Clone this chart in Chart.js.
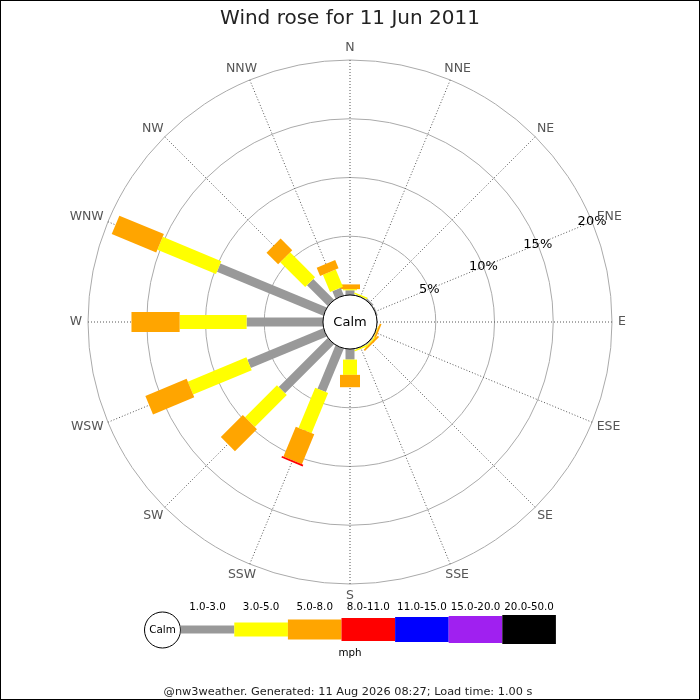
<!DOCTYPE html>
<html>
<head>
<meta charset="utf-8">
<script src="https://cdn.jsdelivr.net/npm/chart.js@4.4.1/dist/chart.umd.min.js"></script>
<style>
  html, body { margin: 0; padding: 0; background: #fff; }
  #wrap { width: 700px; height: 700px; }
</style>
</head>
<body>
<div id="wrap"><canvas id="c" width="700" height="700"></canvas></div>
<script>
// ---- data ----
const directions = ['N','NNE','NE','ENE','E','ESE','SE','SSE','S','SSW','SW','WSW','W','WNW','NW','NNW'];
const speedBins = ['1.0-3.0','3.0-5.0','5.0-8.0','8.0-11.0','11.0-15.0','15.0-20.0','20.0-50.0'];
// percentage of time per direction, per speed bin (mph)
const pct_1_3   = [0.40,0.05,0.15,0.10,0,0.05,0.10,0.05,0.90,4.00,5.90,7.00,6.50,9.80,2.50,0.70];
const pct_3_5   = [0.10,0.12,0,0,0,0.05,0.10,0.12,1.30,3.70,3.85,5.40,5.70,5.40,3.00,1.60];
const pct_5_8   = [0.40,0,0,0,0,0.15,0.15,0,1.05,2.75,2.65,3.80,4.10,4.10,1.40,0.75];
const pct_8_11  = [0,0,0,0,0,0,0,0,0,0.15,0,0,0,0,0,0];
const pct_11_15 = [0,0,0,0,0,0,0,0,0,0,0,0,0,0,0,0];
const pct_15_20 = [0,0,0,0,0,0,0,0,0,0,0,0,0,0,0,0];
const pct_20_50 = [0,0,0,0,0,0,0,0,0,0,0,0,0,0,0,0];
const ringTicks = [5, 10, 15, 20];
const titleText = 'Wind rose for 11 Jun 2011';
const unitText = 'mph';
const calmText = 'Calm';
const footerText = '@nw3weather. Generated: 11 Aug 2026 08:27; Load time: 1.00 s';

// ---- styles ----
const binColors = ['#999999','#ffff00','#ffa500','#ff0000','#0000ff','#a020f0','#000000'];
const binWidths = [9, 14, 20, 23, 25, 27, 29];
const legendHeights = [8, 14, 20, 23, 25, 27, 29];
const FONT = '"DejaVu Sans", "Liberation Sans", sans-serif';
const CALM_MIN = -2.3; // value that maps to the calm circle edge

const series = [pct_1_3, pct_3_5, pct_5_8, pct_8_11, pct_11_15, pct_15_20, pct_20_50];

const rosePlugin = {
  id: 'rose',
  afterDatasetsDraw(chart) {
    const ctx = chart.ctx;
    const s = chart.scales.r;
    const n = directions.length;
    // bars
    for (let i = 0; i < n; i++) {
      let cum = 0;
      const ang = s.getIndexAngle(i) - Math.PI / 2;
      for (let k = 0; k < series.length; k++) {
        const v = chart.data.datasets[k].data[i];
        if (!v) continue;
        const r0 = s.getDistanceFromCenterForValue(cum);
        cum += v;
        const r1 = s.getDistanceFromCenterForValue(cum);
        const w = binWidths[k];
        ctx.save();
        ctx.translate(s.xCenter, s.yCenter);
        ctx.rotate(ang);
        ctx.fillStyle = binColors[k];
        ctx.fillRect(r0, -w / 2, r1 - r0, w);
        ctx.restore();
      }
    }
    // calm circle
    const rc = s.getDistanceFromCenterForValue(0);
    ctx.save();
    ctx.beginPath();
    ctx.arc(s.xCenter, s.yCenter, rc, 0, Math.PI * 2);
    ctx.fillStyle = '#fff';
    ctx.fill();
    ctx.lineWidth = 1;
    ctx.strokeStyle = '#000';
    ctx.stroke();
    ctx.fillStyle = '#000';
    ctx.font = '13px ' + FONT;
    ctx.textAlign = 'center';
    ctx.textBaseline = 'middle';
    ctx.fillText(calmText, s.xCenter, s.yCenter + 0.5);
    // ring labels along ENE
    ringTicks.forEach(v => {
      const p = s.getPointPosition(3, s.getDistanceFromCenterForValue(v));
      ctx.fillText(v + '%', p.x, p.y);
    });
    // direction labels
    ctx.font = '12.5px ' + FONT;
    ctx.fillStyle = '#555555';
    const outer = s.getDistanceFromCenterForValue(s.max) + 6;
    directions.forEach((lab, i) => {
      const a = s.getIndexAngle(i);
      const p = s.getPointPosition(i, outer);
      const w = ctx.measureText(lab).width;
      const x = p.x + (w / 2) * Math.sin(a);
      const y = p.y - 6 * Math.cos(a);
      ctx.fillText(lab, x, y);
    });
    ctx.restore();
  },
  afterDraw(chart) {
    const ctx = chart.ctx;
    ctx.save();
    // legend
    const cy = 629.5;
    ctx.beginPath();
    ctx.arc(162.5, 630, 18, 0, Math.PI * 2);
    ctx.fillStyle = '#fff';
    ctx.fill();
    ctx.strokeStyle = '#000';
    ctx.lineWidth = 1;
    ctx.stroke();
    ctx.fillStyle = '#000';
    ctx.font = '10.4px ' + FONT;
    ctx.textAlign = 'center';
    ctx.textBaseline = 'middle';
    ctx.fillText(calmText, 162.5, 630.5);
    const x0 = 180.7, step = 53.6;
    speedBins.forEach((lab, k) => {
      const h = legendHeights[k];
      ctx.fillStyle = binColors[k];
      ctx.fillRect(x0 + k * step, cy - h / 2, step, h);
      ctx.fillStyle = '#000';
      ctx.font = '10.3px ' + FONT;
      ctx.fillText(lab, x0 + k * step + step / 2, 607);
    });
    ctx.fillText(unitText, 350, 653);
    ctx.font = '11.3px ' + FONT;
    ctx.fillStyle = '#222';
    ctx.fillText(footerText, 348, 692.5);
    // frame
    ctx.strokeStyle = '#000';
    ctx.lineWidth = 1;
    ctx.strokeRect(0.5, 0.5, 699, 699);
    ctx.restore();
  }
};

new Chart(document.getElementById('c'), {
  type: 'radar',
  data: {
    labels: directions,
    datasets: series.map((d, k) => ({
      label: speedBins[k],
      data: d,
      borderColor: 'rgba(0,0,0,0)',
      backgroundColor: 'rgba(0,0,0,0)',
      borderWidth: 0,
      pointRadius: 0,
      fill: false
    }))
  },
  options: {
    responsive: false,
    devicePixelRatio: 1,
    animation: false,
    layout: { padding: { top: 0, left: 88, right: 88, bottom: 116 } },
    plugins: {
      legend: { display: false },
      tooltip: { enabled: false },
      title: {
        display: true,
        text: titleText,
        color: '#222',
        font: { family: FONT, size: 20, weight: 'normal', lineHeight: 1.2 },
        padding: { top: 7, bottom: 29 }
      }
    },
    scales: {
      r: {
        min: CALM_MIN,
        max: 20,
        startAngle: 0,
        afterBuildTicks: (scale) => { scale.ticks = [0].concat(ringTicks).map(v => ({ value: v })); },
        ticks: { display: false },
        grid: { circular: true, color: '#aaaaaa', lineWidth: 1 },
        angleLines: { display: true, color: '#555555', lineWidth: 1, borderDash: [1, 2] },
        pointLabels: { display: false }
      }
    }
  },
  plugins: [rosePlugin]
});
</script>
</body>
</html>
